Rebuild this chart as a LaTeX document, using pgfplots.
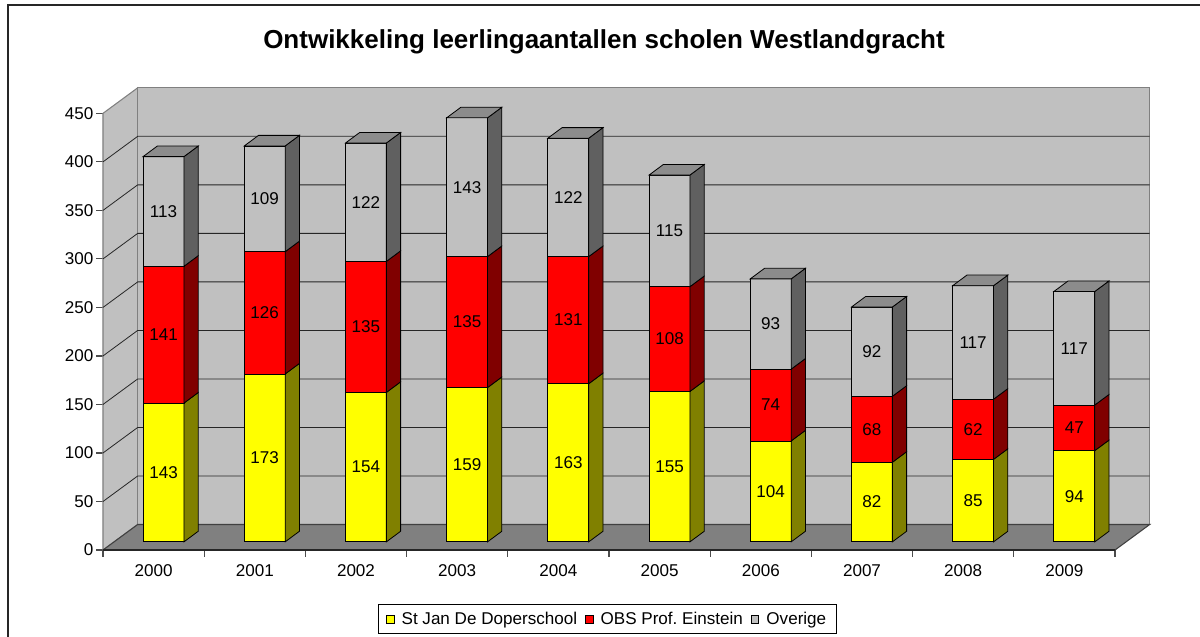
\documentclass[border=0pt]{standalone}
\usepackage{fontspec}
\setmainfont{Liberation Sans}
\usepackage{pgfplots}
\usepackage{pgfplotstable}
\pgfplotsset{compat=1.18}
\definecolor{wallc}{HTML}{C0C0C0}
\definecolor{floorc}{HTML}{808080}
\definecolor{ys}{HTML}{808000}
\definecolor{rs}{HTML}{800000}
\definecolor{gs}{HTML}{606060}
\definecolor{gt}{HTML}{8C8C8C}
\definecolor{yl}{HTML}{FFFF00}
\definecolor{rd}{HTML}{FF0000}
\newcommand\lblfont{\fontsize{12.8pt}{15pt}\selectfont}
\tikzset{lbl/.style={font=\lblfont, inner sep=0pt, text=black}}

\pgfplotstableread{
year a b c
2000 143 141 113
2001 173 126 109
2002 154 135 122
2003 159 135 143
2004 163 131 122
2005 155 108 115
2006 104 74 93
2007 82 68 92
2008 85 62 117
2009 94 47 117
}\datatable

\begin{document}
\frenchspacing
\begin{tikzpicture}[x=1pt,y=1pt]
\begin{axis}[
  at={(0,0)}, anchor=south west,
  scale only axis, width=759pt, height=327.5pt,
  xmin=0, xmax=10, ymin=0, ymax=450,
  clip=false,
  axis line style={draw=none},
  xtick={0,1,2,3,4,5,6,7,8,9,10},
  x tick label as interval,
  xticklabels={2000,2001,2002,2003,2004,2005,2006,2007,2008,2009},
  ytick={0,50,100,150,200,250,300,350,400,450},
  tick align=outside, tick pos=left,
  major tick length=5pt,
  every tick/.style={color=black!70, line width=0.9pt},
  tick label style={font=\lblfont},
  /pgf/number format/assume math mode=true,
  yticklabel style={inner sep=2pt},
  xticklabel style={inner sep=2pt, yshift=-4pt},
  legend image code/.code={\draw[#1, line width=0.6pt] (0pt,-2.8pt) rectangle (5.6pt,2.8pt); \path (9pt,0pt);},
  legend style={at={(0.4985,-0.159)}, anchor=center, draw=black, line width=0.7pt,
    font=\lblfont, inner ysep=3.5pt, inner xsep=6pt,
    /tikz/every even column/.append style={column sep=4pt}},
  legend columns=3,
]
% walls and floor
\addplot[fill=wallc, draw=floorc, line width=0.8pt, forget plot] coordinates {(0,0) (0,450) (0.343,476.3) (0.343,26.3)} -- cycle;
\addplot[fill=wallc, draw=floorc, line width=0.8pt, forget plot] coordinates {(0.343,26.3) (0.343,476.3) (10.343,476.3) (10.343,26.3)} -- cycle;
\addplot[fill=floorc, draw=black!75, line width=0.8pt, forget plot] coordinates {(0,0) (10,0) (10.343,26.3) (0.343,26.3)} -- cycle;
% gridlines
\pgfplotsinvokeforeach{50,100,150,200,250,300,350,400}{
  \pgfmathsetmacro\gy{#1+26.3}
  \edef\temp{\noexpand\addplot[black!85, line width=0.6pt, forget plot] coordinates {(0,#1) (0.343,\gy) (10.343,\gy)};}
  \temp
}
% bars
\pgfplotsinvokeforeach{0,1,2,3,4,5,6,7,8,9}{
  \pgfplotstablegetelem{#1}{a}\of\datatable \let\va\pgfplotsretval
  \pgfplotstablegetelem{#1}{b}\of\datatable \let\vb\pgfplotsretval
  \pgfplotstablegetelem{#1}{c}\of\datatable \let\vc\pgfplotsretval
  \pgfmathsetmacro\xl{#1+0.396}
  \pgfmathsetmacro\xr{\xl+0.404}
  \pgfmathsetmacro\xrr{\xr+0.141}
  \pgfmathsetmacro\xlr{\xl+0.141}
  \pgfmathsetmacro\xm{\xl+0.202}
  \pgfmathsetmacro\ya{8.4}
  \pgfmathsetmacro\yb{\ya+\va}
  \pgfmathsetmacro\yc{\yb+\vb}
  \pgfmathsetmacro\yd{\yc+\vc}
  \pgfmathsetmacro\yaa{\ya+10.9}
  \pgfmathsetmacro\ybb{\yb+10.9}
  \pgfmathsetmacro\ycc{\yc+10.9}
  \pgfmathsetmacro\ydd{\yd+10.9}
  \pgfmathsetmacro\ma{(\ya+\yb)/2}
  \pgfmathsetmacro\mb{(\yb+\yc)/2}
  \pgfmathsetmacro\mc{(\yc+\yd)/2}
  \edef\temp{%
    \noexpand\addplot[fill=yl, draw=black, line width=0.6pt, forget plot] coordinates {(\xl,\ya) (\xr,\ya) (\xr,\yb) (\xl,\yb)} -- cycle;
    \noexpand\addplot[fill=ys, draw=black, line width=0.6pt, forget plot] coordinates {(\xr,\ya) (\xrr,\yaa) (\xrr,\ybb) (\xr,\yb)} -- cycle;
    \noexpand\addplot[fill=rd, draw=black, line width=0.6pt, forget plot] coordinates {(\xl,\yb) (\xr,\yb) (\xr,\yc) (\xl,\yc)} -- cycle;
    \noexpand\addplot[fill=rs, draw=black, line width=0.6pt, forget plot] coordinates {(\xr,\yb) (\xrr,\ybb) (\xrr,\ycc) (\xr,\yc)} -- cycle;
    \noexpand\addplot[fill=wallc, draw=black, line width=0.6pt, forget plot] coordinates {(\xl,\yc) (\xr,\yc) (\xr,\yd) (\xl,\yd)} -- cycle;
    \noexpand\addplot[fill=gs, draw=black, line width=0.6pt, forget plot] coordinates {(\xr,\yc) (\xrr,\ycc) (\xrr,\ydd) (\xr,\yd)} -- cycle;
    \noexpand\addplot[fill=gt, draw=black, line width=0.6pt, forget plot] coordinates {(\xl,\yd) (\xr,\yd) (\xrr,\ydd) (\xlr,\ydd)} -- cycle;
    \noexpand\node[lbl] at (axis cs:\xm,\ma) {\va};
    \noexpand\node[lbl] at (axis cs:\xm,\mb) {\vb};
    \noexpand\node[lbl] at (axis cs:\xm,\mc) {\vc};
  }
  \temp
}
% front x axis line
\addplot[black!85, line width=1.4pt, forget plot] coordinates {(0,0) (10,0)};
\addlegendimage{fill=yl, draw=black}
\addlegendentry{St Jan De Doperschool}
\addlegendimage{fill=rd, draw=black}
\addlegendentry{OBS Prof. Einstein}
\addlegendimage{fill=wallc, draw=black}
\addlegendentry{Overige}
\end{axis}
\node[font=\bfseries\fontsize{19.5pt}{23pt}\selectfont] at (375.75pt,381pt) {Ontwikkeling leerlingaantallen scholen Westlandgracht};
\draw[line width=1.5pt, black!85] (-70.9pt,-80pt) -- (-70.9pt,408.75pt) -- (840pt,408.75pt);
\pgfresetboundingbox
\path (-77.25pt,-64.5pt) rectangle (822.75pt,412.5pt);
\end{tikzpicture}
\end{document}
